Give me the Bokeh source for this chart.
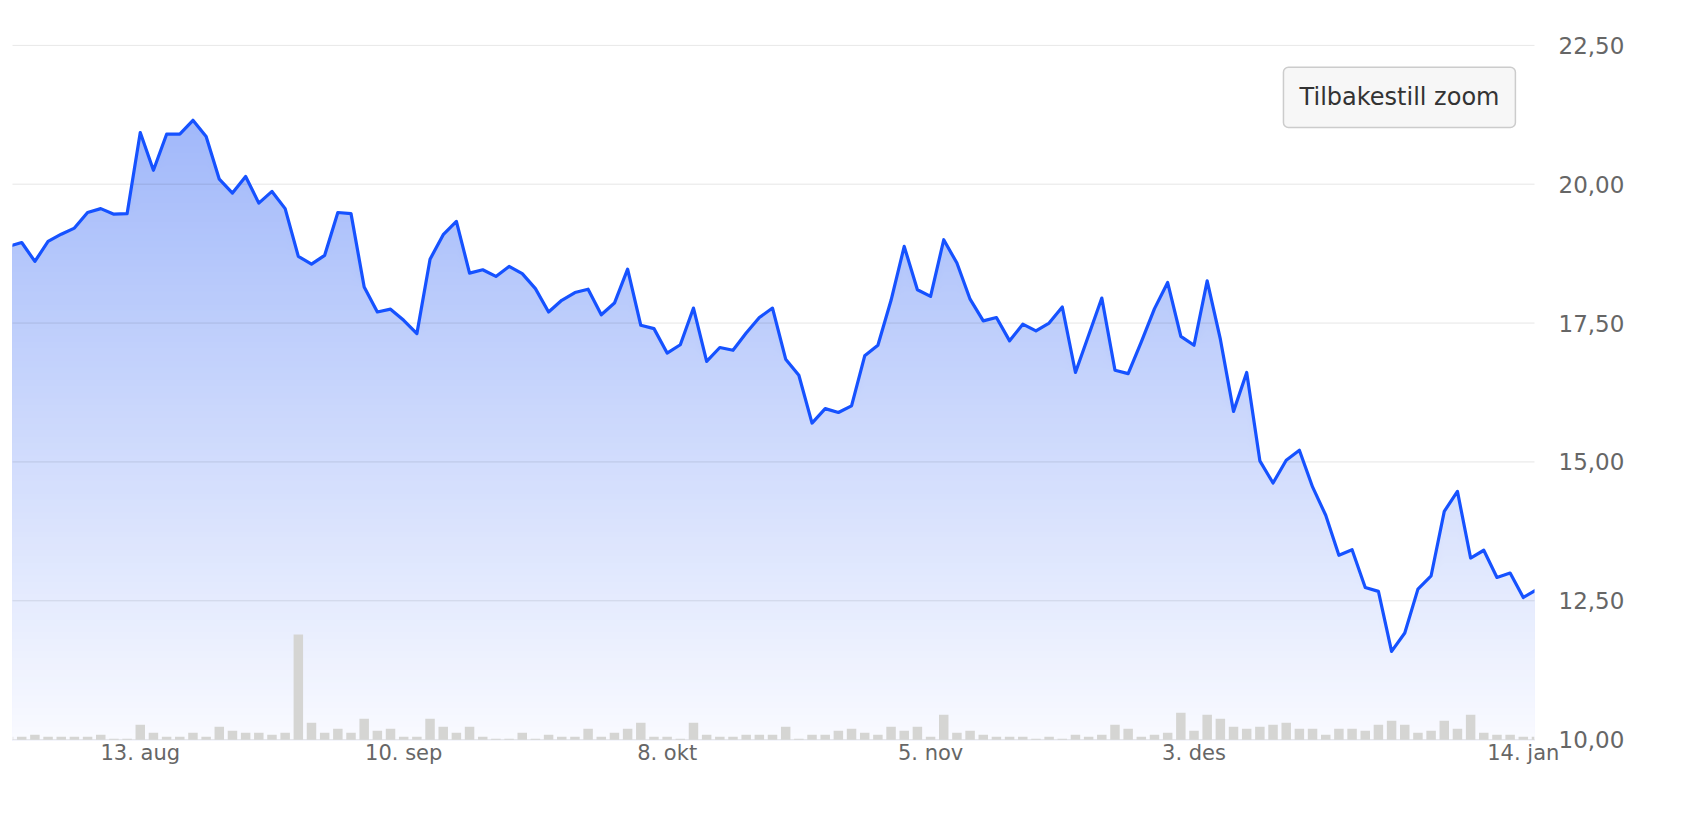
import numpy as np
import pandas as pd
from bokeh.plotting import figure
from bokeh.models import Range1d, FixedTicker
from bokeh.core.properties import value
from bokeh.embed import file_html
from bokeh.resources import INLINE

# ---------------- data ----------------
holidays = ["2018-12-24", "2018-12-25", "2018-12-26", "2018-12-31", "2019-01-01"]
dates = [d.strftime("%Y-%m-%d") for d in pd.bdate_range("2018-07-30", "2019-01-15")
         if d.strftime("%Y-%m-%d") not in holidays]

price = [18.88, 18.95, 18.61, 18.97, 19.10, 19.21, 19.49, 19.56, 19.46, 19.47,
         20.93, 20.25, 20.90, 20.90, 21.15, 20.86, 20.09, 19.84, 20.14, 19.66,
         19.87, 19.56, 18.70, 18.56, 18.72, 19.49, 19.47, 18.15, 17.70, 17.75,
         17.55, 17.31, 18.65, 19.09, 19.33, 18.40, 18.46, 18.34, 18.52, 18.39,
         18.12, 17.70, 17.91, 18.05, 18.11, 17.65, 17.86, 18.47, 17.46, 17.40,
         16.96, 17.11, 17.77, 16.81, 17.06, 17.01, 17.32, 17.60, 17.77, 16.85,
         16.56, 15.70, 15.96, 15.89, 16.01, 16.91, 17.10, 17.91, 18.88, 18.10,
         17.98, 19.00, 18.58, 17.93, 17.54, 17.60, 17.18, 17.48, 17.36, 17.50,
         17.79, 16.61, 17.28, 17.95, 16.65, 16.59, 17.16, 17.76, 18.23, 17.26,
         17.10, 18.26, 17.21, 15.91, 16.61, 15.02, 14.62, 15.03, 15.21, 14.55,
         14.04, 13.32, 13.42, 12.74, 12.67, 11.59, 11.92, 12.71, 12.95, 14.11,
         14.47, 13.27, 13.41, 12.92, 13.00, 12.56, 12.70]

volume_m = [0.15, 0.15, 0.25, 0.15, 0.15, 0.15, 0.15, 0.25, 0.05, 0.05,
            0.75, 0.35, 0.15, 0.15, 0.35, 0.15, 0.65, 0.45, 0.35, 0.35,
            0.25, 0.35, 5.25, 0.85, 0.35, 0.55, 0.35, 1.05, 0.45, 0.55,
            0.15, 0.15, 1.05, 0.65, 0.35, 0.65, 0.15, 0.05, 0.05, 0.35,
            0.05, 0.25, 0.15, 0.15, 0.55, 0.15, 0.35, 0.55, 0.85, 0.15,
            0.15, 0.05, 0.85, 0.25, 0.15, 0.15, 0.25, 0.25, 0.25, 0.65,
            0.05, 0.25, 0.25, 0.45, 0.55, 0.35, 0.25, 0.65, 0.45, 0.65,
            0.15, 1.25, 0.35, 0.45, 0.25, 0.15, 0.15, 0.15, 0.05, 0.15,
            0.05, 0.25, 0.15, 0.25, 0.75, 0.55, 0.15, 0.25, 0.35, 1.35,
            0.45, 1.25, 1.05, 0.65, 0.55, 0.65, 0.75, 0.85, 0.55, 0.55,
            0.25, 0.55, 0.55, 0.45, 0.75, 0.95, 0.75, 0.35, 0.45, 0.95,
            0.55, 1.25, 0.35, 0.25, 0.25, 0.15, 0.15]

tick_dates = ["2018-08-13", "2018-09-10", "2018-10-08", "2018-11-05", "2018-12-03", "2019-01-14"]
tick_labels = ["13. aug", "10. sep", "8. okt", "5. nov", "3. des", "14. jan"]

y_ticks = [10.0, 12.5, 15.0, 17.5, 20.0, 22.5]
y_tick_labels = ["10,00", "12,50", "15,00", "17,50", "20,00", "22,50"]

button_text = "Tilbakestill zoom"

# ---------------- figure ----------------
n = len(price)
xs = list(range(n))
tick_idx = [dates.index(d) for d in tick_dates]
price_arr = np.array(price)

X0, X1 = 0.3, 115.85
Y0, Y1 = 9.985, 22.515
p = figure(width=1678, height=798,
           x_range=Range1d(X0, X1), y_range=Range1d(Y0, Y1),
           output_backend="svg", toolbar_location=None,
           y_axis_location="right",
           min_border_left=12, min_border_right=144,
           min_border_top=44, min_border_bottom=58)
p.outline_line_color = None
p.background_fill_color = "white"
p.border_fill_color = "white"
p.xgrid.visible = False
p.ygrid.visible = False

# vertical colour gradient under the line, built from stacked area layers
top_c = np.array([150, 176, 249], dtype=float)   # colour at 22.5
bot_c = np.array([249, 250, 255], dtype=float)   # colour at 10.0
bands = 110
edges = np.linspace(10.0, 22.5, bands + 1)
for k in range(bands - 1, -1, -1):
    cap = edges[k + 1] if k < bands - 1 else Y1 + 1
    frac = (0.5 * (edges[k] + edges[k + 1]) - 10.0) / 12.5
    c = bot_c + (top_c - bot_c) * frac
    col = "#%02x%02x%02x" % tuple(int(round(v)) for v in c)
    p.varea(x=xs, y1=[Y0] * n, y2=np.minimum(price_arr, cap), fill_color=col)

# grid lines
p.segment(x0=[0] * len(y_ticks), x1=[n] * len(y_ticks), y0=y_ticks, y1=y_ticks,
          line_color="black", line_alpha=0.1, line_width=1)

# volume bars on their own scale
px_per_m = 20.0
frame_h = (Y1 - Y0) * 55.5
p.extra_y_ranges = {"vol": Range1d(-(10 - Y0) * 55.5 / px_per_m,
                                   (frame_h - (10 - Y0) * 55.5) / px_per_m)}
p.vbar(x=xs, top=volume_m, bottom=0, width=0.72, y_range_name="vol",
       fill_color="#d5d5d3", line_color=None)

# price line
p.line(xs, price, line_color="#1652ff", line_width=3.2, line_join="round")

# reset-zoom button
p.quad(left=[96.79], right=[114.4], bottom=[21.023], top=[22.104],
       fill_color="#f7f7f7", line_color="#cccccc", line_width=1.5, border_radius=5)
p.text(x=[105.6], y=[21.563], text=[button_text], text_align="center",
       text_baseline="middle", text_color="#333333",
       text_font=value("DejaVu Sans"), text_font_size="24px")

# axes
xa = p.xaxis[0]
xa.ticker = FixedTicker(ticks=tick_idx)
xa.major_label_overrides = {i: lab for i, lab in zip(tick_idx, tick_labels)}
xa.axis_line_color = None
xa.major_tick_line_color = None
xa.minor_tick_line_color = None
xa.major_tick_out = 0
xa.major_label_standoff = 0
xa.major_label_text_color = "#666666"
xa.major_label_text_font = "DejaVu Sans"
xa.major_label_text_font_size = "21px"

ya = p.yaxis[0]
ya.ticker = FixedTicker(ticks=y_ticks)
ya.major_label_overrides = {v: lab for v, lab in zip(y_ticks, y_tick_labels)}
ya.axis_line_color = None
ya.major_tick_line_color = None
ya.minor_tick_line_color = None
ya.major_tick_out = 0
ya.major_label_standoff = 24
ya.major_label_text_color = "#666666"
ya.major_label_text_font = "DejaVu Sans"
ya.major_label_text_font_size = "23px"

open("out.html", "w").write(file_html(p, INLINE))
